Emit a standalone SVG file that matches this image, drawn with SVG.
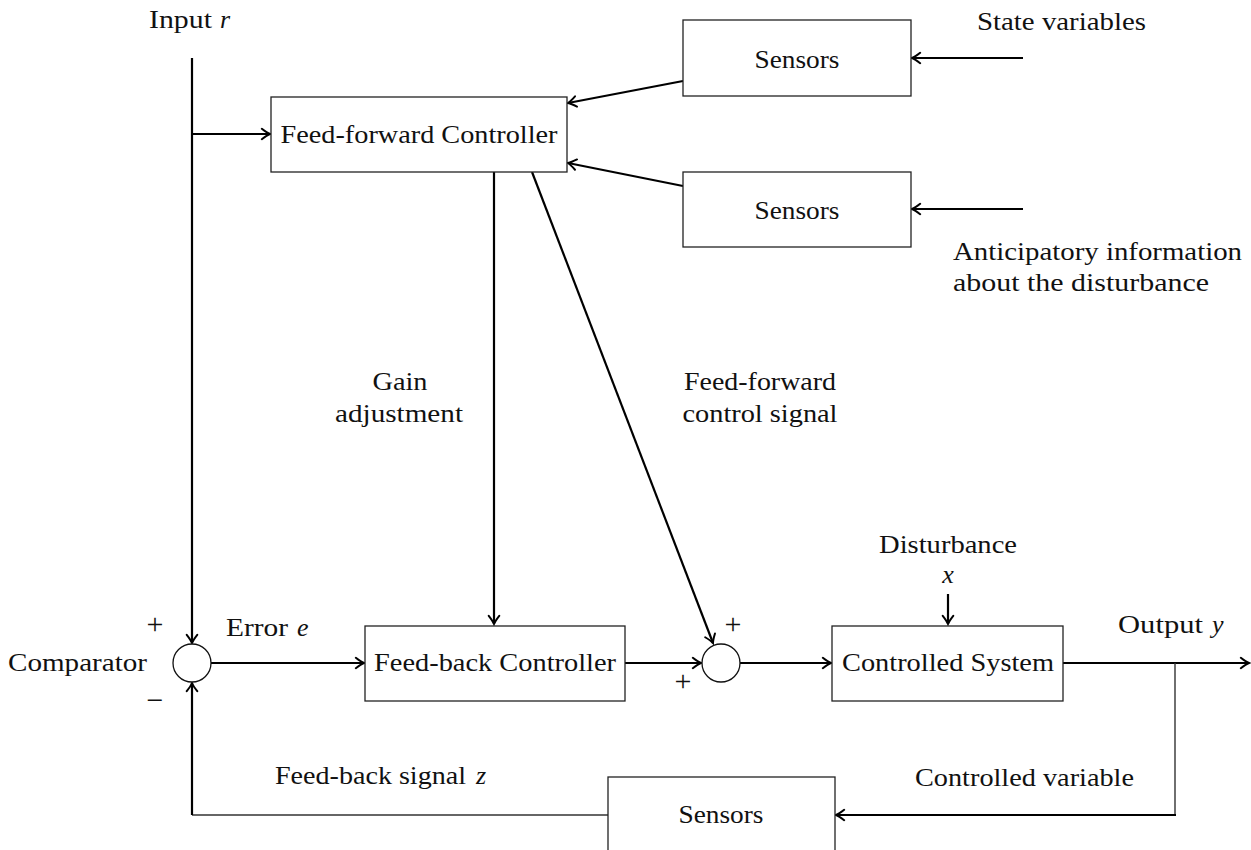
<svg xmlns="http://www.w3.org/2000/svg" width="1251" height="850" viewBox="0 0 1251 850" font-family="'Liberation Serif', 'DejaVu Serif', serif">
  <style>
    text { font-family: 'Liberation Serif', 'DejaVu Serif', serif; font-size: 26px; fill: #111; }
    .c { text-anchor: middle; }
    .sign { font-size: 30px; text-anchor: middle; }
    .box { fill: #fff; stroke: #222; stroke-width: 1.3; }
    .sum { fill: #fff; stroke: #111; stroke-width: 1.3; }
    .wire { fill: none; stroke: #000; stroke-width: 2.2; }
    .thin { fill: none; stroke: #333; stroke-width: 1.4; }
    .arr { marker-end: url(#tip); }
    .v { font-style: italic; }
  </style>
  <defs>
    <marker id="tip" markerUnits="userSpaceOnUse" markerWidth="14" markerHeight="14" viewBox="-10 -6 12 12" refX="0" refY="0" orient="auto">
      <path d="M -7 -4.5 Q -2.5 -1 0 0 Q -2.5 1 -7 4.5" fill="none" stroke="#000" stroke-width="1.7" stroke-linecap="round"/>
    </marker>
  </defs>

  <rect width="1251" height="850" fill="#fff"/>

  <!-- signal lines -->
  <g id="connectors">
    <line class="wire arr" x1="192" y1="58" x2="192" y2="643"/>
    <line class="wire arr" x1="192" y1="134" x2="270" y2="134"/>
    <polyline class="thin" points="608,815 192,815"/>
    <line class="wire arr" x1="192" y1="815" x2="192" y2="683"/>
    <line class="wire arr" x1="211" y1="663" x2="364" y2="663"/>
    <line class="wire arr" x1="625" y1="663" x2="701" y2="663"/>
    <line class="wire arr" x1="740" y1="663" x2="831" y2="663"/>
    <line class="wire arr" x1="1063" y1="663" x2="1249" y2="663"/>
    <line class="thin" x1="1175" y1="663" x2="1175" y2="815"/>
    <line class="wire arr" x1="1176" y1="815" x2="836" y2="815"/>
    <line class="wire arr" x1="948" y1="594" x2="948" y2="624"/>
    <line class="wire arr" x1="494" y1="172" x2="494" y2="624"/>
    <line class="wire arr" x1="532" y1="172" x2="713" y2="643"/>
    <line class="wire arr" x1="1023" y1="58" x2="912" y2="58"/>
    <line class="wire arr" x1="1023" y1="209" x2="912" y2="209"/>
    <line class="wire arr" x1="683" y1="81" x2="568" y2="103"/>
    <line class="wire arr" x1="683" y1="186" x2="568" y2="163"/>
  </g>

  <!-- blocks -->
  <g id="ff-controller">
    <rect class="box" x="271" y="97" width="296" height="75"/>
    <text class="c" x="419" y="143" textLength="277" lengthAdjust="spacingAndGlyphs">Feed-forward Controller</text>
  </g>
  <g id="sensors-state">
    <rect class="box" x="683" y="20" width="228" height="76"/>
    <text class="c" x="797" y="68" textLength="85" lengthAdjust="spacingAndGlyphs">Sensors</text>
  </g>
  <g id="sensors-disturbance">
    <rect class="box" x="683" y="172" width="228" height="75"/>
    <text class="c" x="797" y="219" textLength="85" lengthAdjust="spacingAndGlyphs">Sensors</text>
  </g>
  <g id="comparator">
    <circle class="sum" cx="192" cy="663" r="19"/>
  </g>
  <g id="fb-controller">
    <rect class="box" x="365" y="626" width="260" height="75"/>
    <text class="c" x="495" y="671" textLength="242" lengthAdjust="spacingAndGlyphs">Feed-back Controller</text>
  </g>
  <g id="summer">
    <circle class="sum" cx="721" cy="663" r="19"/>
  </g>
  <g id="controlled-system">
    <rect class="box" x="832" y="626" width="231" height="75"/>
    <text class="c" x="948" y="671" textLength="212" lengthAdjust="spacingAndGlyphs">Controlled System</text>
  </g>
  <g id="sensors-output">
    <rect class="box" x="608" y="777" width="227" height="90"/>
    <text class="c" x="721" y="823" textLength="85" lengthAdjust="spacingAndGlyphs">Sensors</text>
  </g>

  <!-- labels -->
  <g id="labels">
    <text x="149" y="28" textLength="63" lengthAdjust="spacingAndGlyphs">Input</text>
    <text class="v" x="220" y="28">r</text>
    <text x="977" y="30" textLength="169" lengthAdjust="spacingAndGlyphs">State variables</text>
    <text x="953" y="260" textLength="289" lengthAdjust="spacingAndGlyphs">Anticipatory information</text>
    <text x="953" y="291" textLength="256" lengthAdjust="spacingAndGlyphs">about the disturbance</text>
    <text class="c" x="400" y="390" textLength="55" lengthAdjust="spacingAndGlyphs">Gain</text>
    <text class="c" x="399" y="422" textLength="128" lengthAdjust="spacingAndGlyphs">adjustment</text>
    <text class="c" x="760" y="390" textLength="152" lengthAdjust="spacingAndGlyphs">Feed-forward</text>
    <text class="c" x="760" y="422" textLength="155" lengthAdjust="spacingAndGlyphs">control signal</text>
    <text class="c" x="948" y="553" textLength="138" lengthAdjust="spacingAndGlyphs">Disturbance</text>
    <text class="c v" x="948" y="583">x</text>
    <text class="sign" x="155" y="634">+</text>
    <text class="sign" x="155" y="710">−</text>
    <text x="8" y="671" textLength="139" lengthAdjust="spacingAndGlyphs">Comparator</text>
    <text x="226" y="636" textLength="62" lengthAdjust="spacingAndGlyphs">Error</text>
    <text class="v" x="297" y="636">e</text>
    <text class="sign" x="733" y="634">+</text>
    <text class="sign" x="683" y="691">+</text>
    <text x="1118" y="633" textLength="85" lengthAdjust="spacingAndGlyphs">Output</text>
    <text class="v" x="1212" y="633">y</text>
    <text x="275" y="784" textLength="191" lengthAdjust="spacingAndGlyphs">Feed-back signal</text>
    <text class="v" x="476" y="784">z</text>
    <text x="915" y="786" textLength="219" lengthAdjust="spacingAndGlyphs">Controlled variable</text>
  </g>
</svg>
